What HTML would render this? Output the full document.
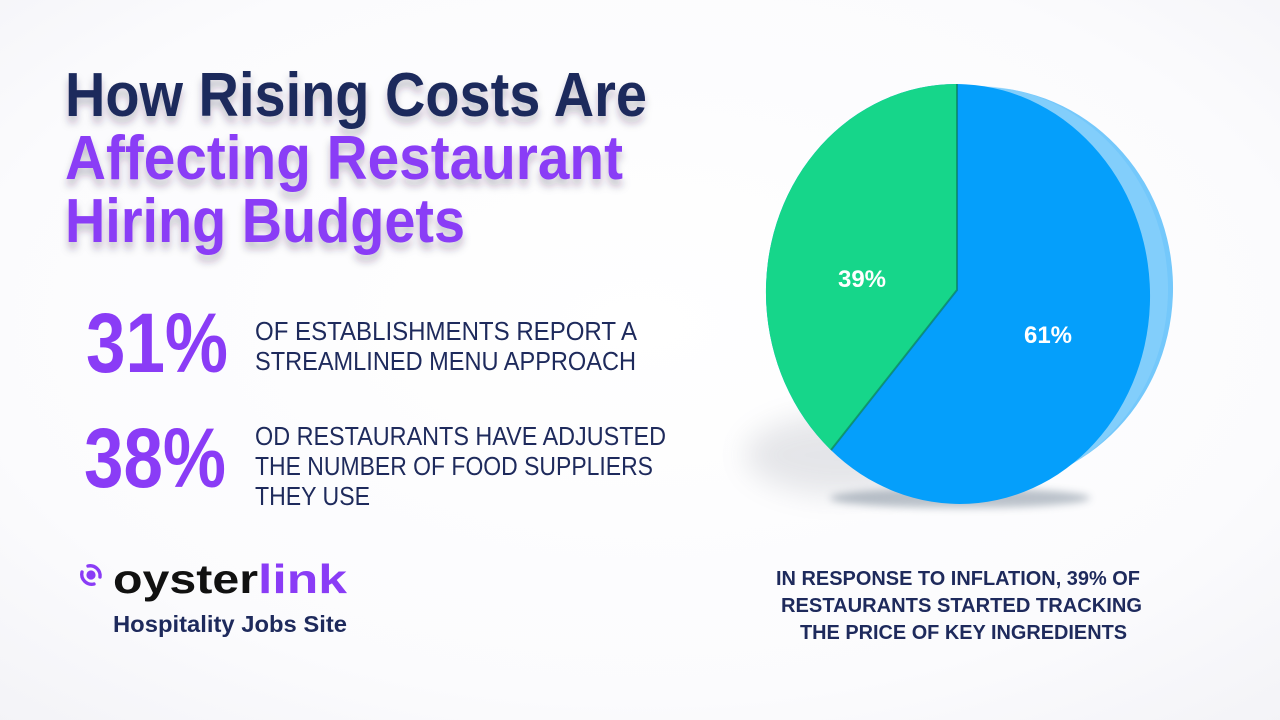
<!DOCTYPE html>
<html><head><meta charset="utf-8"><style>
html,body{margin:0;padding:0;width:1280px;height:720px;overflow:hidden;background:#fbfbfd}
svg{display:block}
</style></head><body>
<svg width="1280" height="720" viewBox="0 0 1280 720" xmlns="http://www.w3.org/2000/svg" font-family="Liberation Sans, Arial, sans-serif">
<defs>
<radialGradient id="bg" cx="50%" cy="45%" r="75%">
<stop offset="0" stop-color="#ffffff"/><stop offset="0.7" stop-color="#fbfbfd"/><stop offset="1" stop-color="#f3f3f7"/>
</radialGradient>
<filter id="ts" x="-10%" y="-30%" width="120%" height="180%">
<feDropShadow dx="0" dy="7" stdDeviation="4" flood-color="#2a2140" flood-opacity="0.28"/>
</filter>
<filter id="blur12" x="-50%" y="-50%" width="200%" height="200%"><feGaussianBlur stdDeviation="14"/></filter>
<filter id="blur4" x="-50%" y="-50%" width="200%" height="200%"><feGaussianBlur stdDeviation="4"/></filter>
<clipPath id="face"><ellipse cx="958" cy="294" rx="192" ry="210" transform="rotate(-3 958 294)"/></clipPath>
</defs>
<rect width="1280" height="720" fill="url(#bg)"/>

<!-- Title -->
<g font-weight="bold" font-size="62" filter="url(#ts)">
<text x="65" y="116" fill="#1e2a5c" textLength="582" lengthAdjust="spacingAndGlyphs">How Rising Costs Are</text>
<text x="65" y="179" fill="#8a3cf6" textLength="558" lengthAdjust="spacingAndGlyphs">Affecting Restaurant</text>
<text x="65" y="242" fill="#8a3cf6" textLength="400" lengthAdjust="spacingAndGlyphs">Hiring Budgets</text>
</g>

<!-- Stats -->
<g font-weight="bold" font-size="84" fill="#8a3cf6">
<text x="86" y="372" textLength="142" lengthAdjust="spacingAndGlyphs">31%</text>
<text x="84" y="487" textLength="142" lengthAdjust="spacingAndGlyphs">38%</text>
</g>
<g font-size="26" fill="#1e2a5c">
<text x="255" y="340" textLength="382" lengthAdjust="spacingAndGlyphs">OF ESTABLISHMENTS REPORT A</text>
<text x="255" y="370" textLength="381" lengthAdjust="spacingAndGlyphs">STREAMLINED MENU APPROACH</text>
<text x="255" y="445" textLength="411" lengthAdjust="spacingAndGlyphs">OD RESTAURANTS HAVE ADJUSTED</text>
<text x="255" y="475" textLength="398" lengthAdjust="spacingAndGlyphs">THE NUMBER OF FOOD SUPPLIERS</text>
<text x="255" y="505" textLength="115" lengthAdjust="spacingAndGlyphs">THEY USE</text>
</g>

<!-- Logo -->
<g fill="none" stroke="#8a3cf6" stroke-width="3.4" stroke-linecap="round">
<circle cx="91" cy="575" r="4.6" fill="#8a3cf6" stroke="none"/>
<path d="M88 566 A10 10 0 0 1 100 577"/>
<path d="M82 572 A10 10 0 0 0 94 584"/>
</g>
<g font-weight="bold" font-size="41">
<text x="113" y="593" fill="#111" textLength="145" lengthAdjust="spacingAndGlyphs">oyster</text>
<text x="258" y="593" fill="#8a3cf6" textLength="89" lengthAdjust="spacingAndGlyphs">link</text>
</g>
<text x="113" y="632" font-weight="bold" font-size="23" fill="#1e2a5c" textLength="234" lengthAdjust="spacingAndGlyphs">Hospitality Jobs Site</text>

<!-- Pie shadow -->
<ellipse cx="840" cy="455" rx="95" ry="40" fill="#6a7080" opacity="0.16" filter="url(#blur12)"/>
<ellipse cx="960" cy="498" rx="130" ry="10" fill="#40556a" opacity="0.35" filter="url(#blur4)"/>

<!-- Pie side shell -->
<ellipse cx="982" cy="287" rx="191" ry="200" transform="rotate(-3 982 287)" fill="#74c8fb"/>
<ellipse cx="978" cy="288" rx="190" ry="202" transform="rotate(-3 978 288)" fill="#8fd3fc" opacity="0.5"/>

<!-- Pie face -->
<g clip-path="url(#face)">
<rect x="700" y="60" width="520" height="480" fill="#059ffb"/>
<path d="M957 60 L957 290 L830 452 L740 540 L700 540 L700 60 Z" fill="#16d68a"/>
<path d="M957 84 L957 290 L831 450" fill="none" stroke="#0b6a4a" stroke-width="2" opacity="0.55"/>
</g>

<!-- Pie labels -->
<g font-weight="bold" font-size="24" fill="#ffffff" text-anchor="middle">
<text x="862" y="287">39%</text>
<text x="1048" y="343">61%</text>
</g>

<!-- Bottom right caption -->
<g font-weight="bold" font-size="20.5" fill="#1e2a5c">
<text x="776" y="585" textLength="364" lengthAdjust="spacingAndGlyphs">IN RESPONSE TO INFLATION, 39% OF</text>
<text x="781" y="612" textLength="361" lengthAdjust="spacingAndGlyphs">RESTAURANTS STARTED TRACKING</text>
<text x="800" y="639" textLength="327" lengthAdjust="spacingAndGlyphs">THE PRICE OF KEY INGREDIENTS</text>
</g>
</svg>
</body></html>
